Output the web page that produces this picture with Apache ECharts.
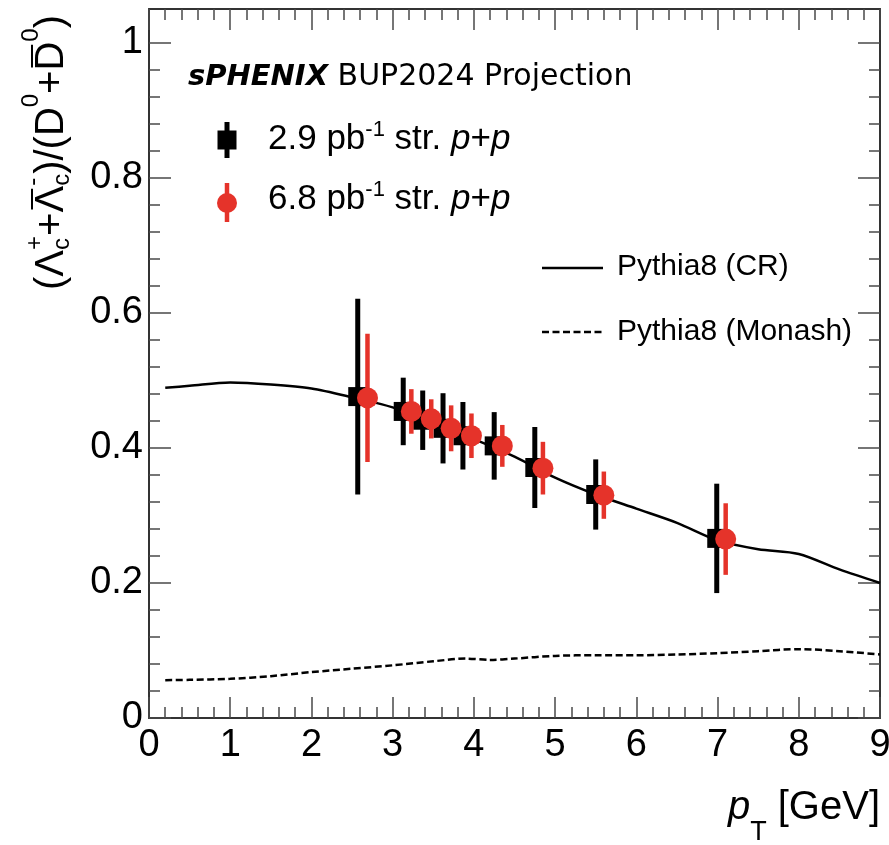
<!DOCTYPE html>
<html>
<head>
<meta charset="utf-8">
<script src="https://cdn.jsdelivr.net/npm/echarts@6/dist/echarts.min.js"></script>
<style>
  html, body { margin: 0; padding: 0; background: #fff; }
  #chart { width: 889px; height: 845px; }
</style>
</head>
<body>
<div id="chart"></div>
<script>
// Lambda_c / D0 ratio projection, 2.9 pb^-1 streaming p+p
const ptLow    = [2.57, 3.13, 3.37, 3.62, 3.865, 4.25, 4.75, 5.50, 6.99];
const ratioLow = [0.476, 0.454, 0.441, 0.429, 0.418, 0.403, 0.371, 0.331, 0.266];
const errLow   = [0.145, 0.050, 0.044, 0.052, 0.050, 0.050, 0.060, 0.052, 0.081];

// 6.8 pb^-1 streaming p+p
const ptHigh    = [2.69, 3.23, 3.475, 3.72, 3.97, 4.35, 4.85, 5.60, 7.10];
const ratioHigh = [0.474, 0.454, 0.443, 0.429, 0.418, 0.403, 0.370, 0.330, 0.265];
const errHigh   = [0.095, 0.033, 0.029, 0.034, 0.033, 0.031, 0.039, 0.035, 0.053];

// Pythia8 (CR) prediction
const ptCR    = [0.2, 0.5, 1.0, 1.5, 2.0, 2.5, 3.0, 3.5, 4.0, 4.5, 5.0, 5.5, 6.0, 6.5, 7.0, 7.5, 8.0, 8.5, 9.0];
const ratioCR = [0.489, 0.492, 0.497, 0.494, 0.488, 0.475, 0.460, 0.436, 0.413, 0.387, 0.356, 0.331, 0.310, 0.289, 0.263, 0.250, 0.243, 0.220, 0.200];

// Pythia8 (Monash) prediction
const ptMonash    = [0.2, 0.5, 1.0, 1.5, 2.0, 2.5, 3.0, 3.5, 3.9, 4.2, 4.5, 5.0, 5.5, 6.0, 6.5, 7.0, 7.5, 8.0, 8.5, 9.0];
const ratioMonash = [0.056, 0.0565, 0.058, 0.062, 0.068, 0.073, 0.078, 0.084, 0.088, 0.086, 0.088, 0.092, 0.093, 0.093, 0.094, 0.096, 0.099, 0.102, 0.099, 0.094];

// axis ticks
const xMin = 0, xMax = 9, xStep = 1;
const yMin = 0, yMax = 1.05;
const yMajor = [0, 0.2, 0.4, 0.6, 0.8, 1.0];
const yMinor = [0.04, 0.08, 0.12, 0.16, 0.24, 0.28, 0.32, 0.36, 0.44, 0.48, 0.52, 0.56,
                0.64, 0.68, 0.72, 0.76, 0.84, 0.88, 0.92, 0.96];

const RED = '#e5332a';
const FONT = 'Liberation Sans';
const AXIS = '#333';
const TICK = '#4a4a4a';

const chart = echarts.init(document.getElementById('chart'), null, { renderer: 'canvas' });

// ---- text helpers -------------------------------------------------------
const mctx = document.createElement('canvas').getContext('2d');
function measure(t, fs, fam, italic, bold) {
  mctx.font = (italic ? 'italic ' : '') + (bold ? 'bold ' : '') + fs + 'px "' + fam + '"';
  return mctx.measureText(t).width;
}
function textEl(x, base, t, fs, o) {
  o = o || {};
  return {
    type: 'text', x: x, y: base - 0.35 * fs, silent: true,
    style: {
      text: t, fontSize: fs, fontFamily: o.family || FONT,
      fontStyle: o.italic ? 'italic' : 'normal',
      fontWeight: o.bold ? 'bold' : 'normal',
      fill: o.color || '#000',
      textAlign: 'left', align: 'left',
      textVerticalAlign: 'middle', verticalAlign: 'middle'
    }
  };
}
// lays out pieces left to right on a common baseline
function run(x, base, pieces) {
  const els = [];
  let cx = x;
  for (const p of pieces) {
    if (p.stack) {
      let w = 0;
      for (const q of p.stack) {
        els.push(textEl(cx, base + (q.dy || 0), q.t, q.fs, q));
        w = Math.max(w, measure(q.t, q.fs, q.family || FONT, q.italic, q.bold));
      }
      cx += w;
      continue;
    }
    const w = measure(p.t, p.fs, p.family || FONT, p.italic, p.bold);
    els.push(textEl(cx, base + (p.dy || 0), p.t, p.fs, p));
    if (p.bar) {
      els.push({ type: 'line', silent: true,
        shape: { x1: cx + p.bar[0], y1: base + p.bar[2], x2: cx + w - p.bar[1], y2: base + p.bar[2] },
        style: { stroke: '#000', lineWidth: 2 } });
    }
    cx += w;
  }
  return { els: els, width: cx - x };
}
function runWidth(pieces) { return run(0, 0, pieces).width; }

// ---- titles and annotations --------------------------------------------
const yTitlePieces = [
  { t: '(', fs: 40 }, { t: 'Λ', fs: 40 },
  { stack: [{ t: 'c', fs: 24, dy: 5 }, { t: '+', fs: 24, dy: -22 }] },
  { t: '+', fs: 40 }, { t: 'Λ', fs: 40, bar: [3, 3, -34] },
  { stack: [{ t: 'c', fs: 24, dy: 5 }, { t: '-', fs: 24, dy: -24 }] },
  { t: ')', fs: 40 }, { t: '/', fs: 40 }, { t: '(', fs: 40 },
  { t: 'D', fs: 40 }, { t: '0', fs: 24, dy: -26 },
  { t: '+', fs: 40 }, { t: 'D', fs: 40, bar: [3, 3, -34] }, { t: '0', fs: 24, dy: -26 },
  { t: ')', fs: 40 }
];
const yTitle = run(0, 0, yTitlePieces);

const xTitlePieces = [
  { t: 'p', fs: 40, italic: true }, { t: 'T', fs: 27, dy: 20 }, { t: ' [GeV]', fs: 40 }
];
const xTitle = run(880 - runWidth(xTitlePieces), 822, xTitlePieces);

const headline = run(188, 88, [
  { t: 'sPHENIX', fs: 29, italic: true, bold: true, family: 'DejaVu Sans' },
  { t: ' BUP2024 Projection', fs: 30, family: 'DejaVu Sans' }
]);

const legLow = run(268, 152, [
  { t: '2.9 pb', fs: 35 }, { t: '-1', fs: 22, dy: -14 }, { t: ' str. ', fs: 35 },
  { t: 'p', fs: 35, italic: true }, { t: '+', fs: 35 }, { t: 'p', fs: 35, italic: true }
]);
const legHigh = run(268, 212, [
  { t: '6.8 pb', fs: 35 }, { t: '-1', fs: 22, dy: -14 }, { t: ' str. ', fs: 35 },
  { t: 'p', fs: 35, italic: true }, { t: '+', fs: 35 }, { t: 'p', fs: 35, italic: true }
]);

const graphics = [
  { type: 'group', x: 66, y: 290, rotation: Math.PI / 2, children: yTitle.els },
  ...xTitle.els, ...headline.els, ...legLow.els, ...legHigh.els,
  // legend markers
  { type: 'line', shape: { x1: 227, y1: 122, x2: 227, y2: 158 }, style: { stroke: '#000', lineWidth: 5 } },
  { type: 'rect', shape: { x: 217.5, y: 130.5, width: 19, height: 19 }, style: { fill: '#000' } },
  { type: 'line', shape: { x1: 227, y1: 183, x2: 227, y2: 222 }, style: { stroke: RED, lineWidth: 4.5 } },
  { type: 'circle', shape: { cx: 227, cy: 203, r: 10 }, style: { fill: RED } },
  { type: 'line', shape: { x1: 542, y1: 268, x2: 603, y2: 268 }, style: { stroke: '#000', lineWidth: 2.5 } },
  { type: 'line', shape: { x1: 542, y1: 332, x2: 603, y2: 332 }, style: { stroke: '#000', lineWidth: 2.5, lineDash: [7, 3.5] } },
  textEl(617, 277, 'Pythia8 (CR)', 30),
  textEl(617, 342, 'Pythia8 (Monash)', 30)
];

// ---- axes --------------------------------------------------------------
function xAxisDef(pos, labels) {
  return {
    type: 'value', position: pos, min: xMin, max: xMax, interval: xStep,
    axisLine: { show: true, onZero: false, lineStyle: { color: AXIS, width: 2 } },
    axisTick: { show: true, inside: true, length: 21, lineStyle: { color: TICK, width: 1.5 } },
    minorTick: { show: true, splitNumber: 5, length: 11, lineStyle: { color: TICK, width: 1.5 } },
    axisLabel: { show: labels, fontSize: 38, fontFamily: FONT, color: '#000', margin: 9 },
    splitLine: { show: false }, minorSplitLine: { show: false }
  };
}
function yAxisDef(pos, major) {
  const vals = major ? yMajor : yMinor;
  return {
    type: 'value', position: pos, min: yMin, max: yMax, offset: 0,
    axisLine: { show: major, onZero: false, lineStyle: { color: AXIS, width: 2 } },
    axisTick: { show: true, inside: true, length: major ? 22 : 11, customValues: vals,
                lineStyle: { color: TICK, width: 1.5 } },
    axisLabel: { show: major && pos === 'left', customValues: yMajor, fontSize: 38, fontFamily: FONT,
                 color: '#000', margin: 6,
                 formatter: v => (v === 0 ? '0' : v === 1 ? '1' : v.toFixed(1)) },
    splitLine: { show: false }
  };
}

const option = {
  backgroundColor: '#fff',
  animation: false,
  grid: { left: 149, right: 9, top: 9, bottom: 127, containLabel: false, outerBoundsMode: 'none' },
  xAxis: [xAxisDef('bottom', true), xAxisDef('top', false)],
  yAxis: [yAxisDef('left', true), yAxisDef('left', false), yAxisDef('right', true), yAxisDef('right', false)],
  graphic: graphics,
  series: [
    {
      name: 'Pythia8 (CR)', type: 'line', xAxisIndex: 0, yAxisIndex: 0,
      data: ptCR.map((x, i) => [x, ratioCR[i]]),
      showSymbol: false, symbol: 'none', smooth: 0.3,
      lineStyle: { color: '#000', width: 2.5 }, z: 2
    },
    {
      name: 'Pythia8 (Monash)', type: 'line', xAxisIndex: 0, yAxisIndex: 0,
      data: ptMonash.map((x, i) => [x, ratioMonash[i]]),
      showSymbol: false, symbol: 'none', smooth: 0.3,
      lineStyle: { color: '#000', width: 2.5, type: [7, 3.5] }, z: 2
    },
    {
      name: '2.9 error', type: 'custom', xAxisIndex: 0, yAxisIndex: 0,
      data: ptLow.map((x, i) => [x, ratioLow[i], errLow[i]]),
      encode: { x: 0, y: 1 },
      renderItem: (params, api) => {
        const x = api.value(0), y = api.value(1), e = api.value(2);
        const a = api.coord([x, y + e]), b = api.coord([x, y - e]);
        return { type: 'line', shape: { x1: a[0], y1: a[1], x2: b[0], y2: b[1] },
                 style: { stroke: '#000', lineWidth: 5 } };
      }, z: 3
    },
    {
      name: '2.9 pb-1', type: 'scatter', xAxisIndex: 0, yAxisIndex: 0,
      data: ptLow.map((x, i) => [x, ratioLow[i]]),
      symbol: 'rect', symbolSize: 19, itemStyle: { color: '#000', opacity: 1 }, z: 4
    },
    {
      name: '6.8 error', type: 'custom', xAxisIndex: 0, yAxisIndex: 0,
      data: ptHigh.map((x, i) => [x, ratioHigh[i], errHigh[i]]),
      encode: { x: 0, y: 1 },
      renderItem: (params, api) => {
        const x = api.value(0), y = api.value(1), e = api.value(2);
        const a = api.coord([x, y + e]), b = api.coord([x, y - e]);
        return { type: 'line', shape: { x1: a[0], y1: a[1], x2: b[0], y2: b[1] },
                 style: { stroke: RED, lineWidth: 4.5 } };
      }, z: 5
    },
    {
      name: '6.8 pb-1', type: 'scatter', xAxisIndex: 0, yAxisIndex: 0,
      data: ptHigh.map((x, i) => [x, ratioHigh[i]]),
      symbol: 'circle', symbolSize: 21, itemStyle: { color: RED, opacity: 1 }, z: 6
    }
  ]
};
chart.setOption(option);
</script>
</body>
</html>
